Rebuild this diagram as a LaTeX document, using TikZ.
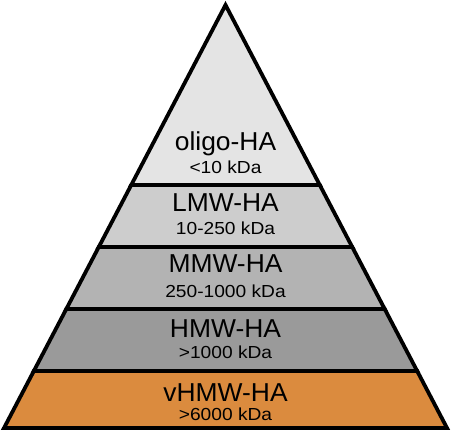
\documentclass[tikz,border=0pt]{standalone}
\usepackage{fontspec}
\setmainfont{Liberation Sans}
\usetikzlibrary{calc}

\definecolor{oligofill}{HTML}{E4E4E4}
\definecolor{lmwfill}{HTML}{CDCDCD}
\definecolor{mmwfill}{HTML}{B3B3B3}
\definecolor{hmwfill}{HTML}{9A9A9A}
\definecolor{vhmwfill}{HTML}{DB8B3E}

\begin{document}
\begin{tikzpicture}[
  x=1bp, y=1bp,
  layer/.style={draw=black, line width=3.8bp, line join=miter},
  title/.style={anchor=base, inner sep=0pt, font=\fontsize{26}{27}\selectfont, xscale=1.02},
  mass/.style={anchor=base, inner sep=0pt, font=\fontsize{17.5}{18}\selectfont, xscale=1.1}]

  \useasboundingbox (0,0) rectangle (452,433);

  % --- outline of the pyramid ---
  \coordinate (apex) at (225.5,428);
  \coordinate (bl) at (4,5);
  \coordinate (br) at (447,5);

  % --- level boundaries along the two sides ---
  \coordinate (l1) at ($(apex)!0.4255!(bl)$); \coordinate (r1) at ($(apex)!0.4255!(br)$);
  \coordinate (l2) at ($(apex)!0.5721!(bl)$); \coordinate (r2) at ($(apex)!0.5721!(br)$);
  \coordinate (l3) at ($(apex)!0.7187!(bl)$); \coordinate (r3) at ($(apex)!0.7187!(br)$);
  \coordinate (l4) at ($(apex)!0.8652!(bl)$); \coordinate (r4) at ($(apex)!0.8652!(br)$);

  % --- the five layers ---
  \draw[layer, fill=oligofill] (apex) -- (l1) -- (r1) -- cycle;
  \draw[layer, fill=lmwfill]   (l1) -- (l2) -- (r2) -- (r1) -- cycle;
  \draw[layer, fill=mmwfill]   (l2) -- (l3) -- (r3) -- (r2) -- cycle;
  \draw[layer, fill=hmwfill]   (l3) -- (l4) -- (r4) -- (r3) -- cycle;
  \draw[layer, fill=vhmwfill]  (l4) -- (bl) -- (br) -- (r4) -- cycle;

  % --- labels ---
  \node[title] (oligo)    at (225.5,282) {oligo-HA};
  \node[mass]  (oligokda) at (225.5,259) {<10 kDa};
  \node[title] (lmw)      at (225.5,221) {LMW-HA};
  \node[mass]  (lmwkda)   at (225.5,198) {10-250 kDa};
  \node[title] (mmw)      at (225.5,160) {MMW-HA};
  \node[mass]  (mmwkda)   at (225.5,135) {250-1000 kDa};
  \node[title] (hmw)      at (225.5,95)  {HMW-HA};
  \node[mass]  (hmwkda)   at (225.5,74)  {>1000 kDa};
  \node[title] (vhmw)     at (225.5,31)  {vHMW-HA};
  \node[mass]  (vhmwkda)  at (225.5,12)  {>6000 kDa};
\end{tikzpicture}
\end{document}
